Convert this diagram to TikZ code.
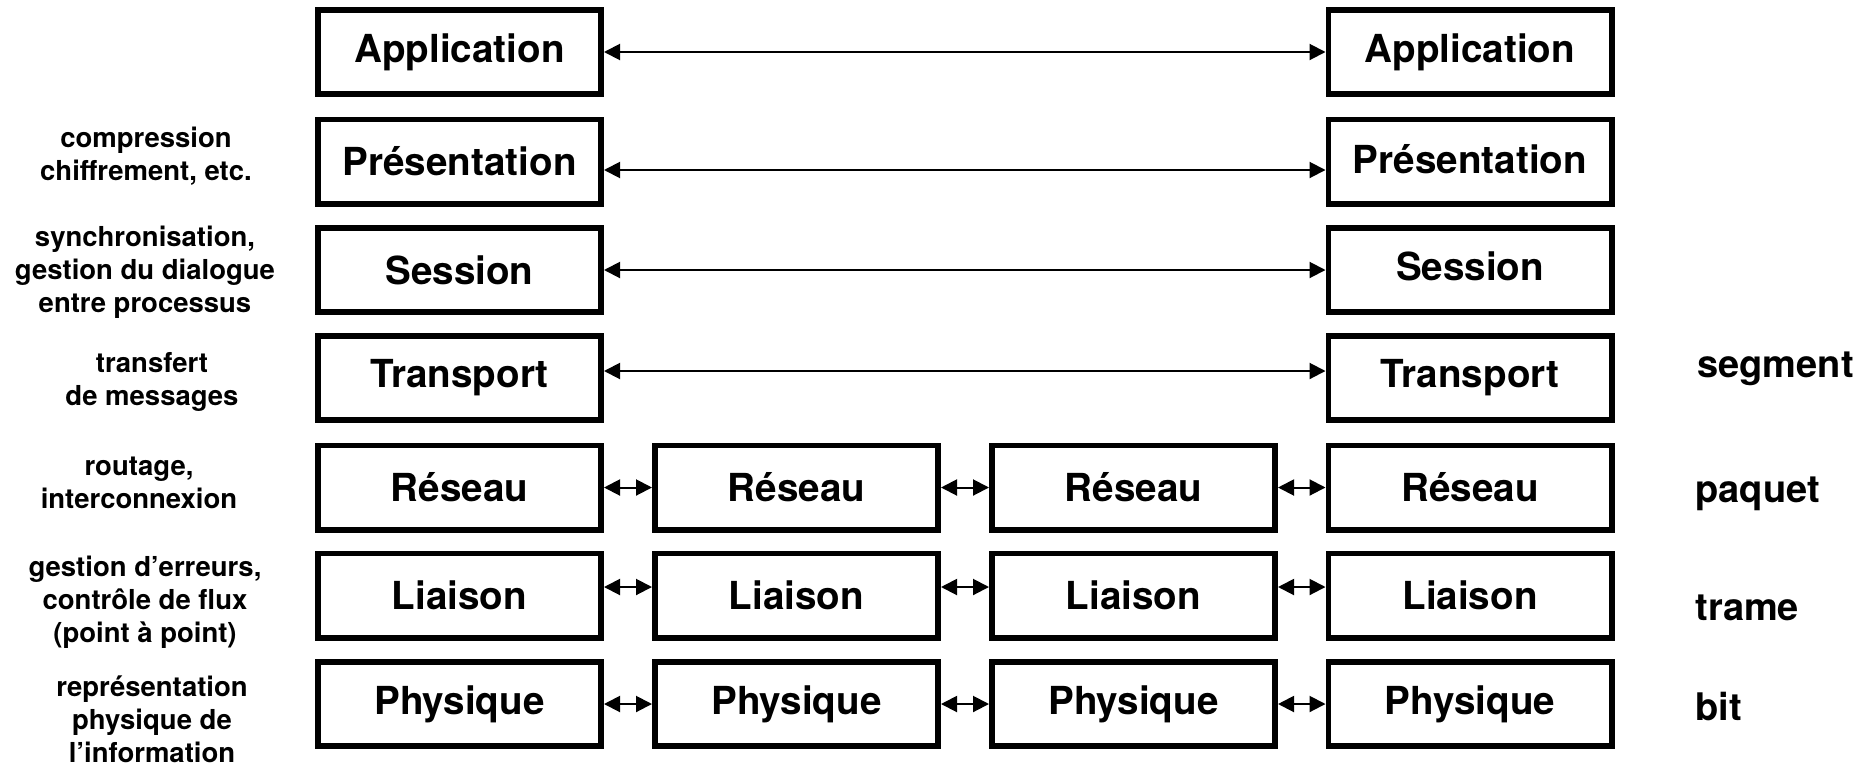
\documentclass[tikz,border=0pt]{standalone}
\usepackage{fontspec}
\setmainfont{TeX Gyre Heros}
\usetikzlibrary{arrows.meta}
\begin{document}
\begin{tikzpicture}[x=0.5pt,y=-0.5pt,
  layer/.style={draw,line width=2.85pt,minimum width=141.65pt,minimum height=42.15pt,inner sep=0pt,font=\fontsize{19.3}{22}\selectfont\bfseries},
  desc/.style={align=center,inner sep=0pt,font=\fontsize{13.75}{16.5}\selectfont\bfseries},
  pdu/.style={anchor=base west,inner sep=0pt,font=\fontsize{19}{22}\selectfont\bfseries},
  link/.style={{Triangle[length=8pt,width=8pt]}-{Triangle[length=8pt,width=8pt]},line width=1pt}]
\useasboundingbox (0,0) rectangle (1872,766);

% columns 1 and 4 (upper layers)
\node[layer] (A1) at (459.5,52) {Application};
\node[layer] (A4) at (1470,52) {Application};
\node[layer] (P1) at (459.5,161.5) {Présentation};
\node[layer] (P4) at (1470,161.5) {\raisebox{3pt}{Présentation}};
\node[layer] (S1) at (459.5,270) {Session};
\node[layer] (S4) at (1470,270) {\raisebox{3.5pt}{Session}};
\node[layer] (T1) at (459.5,378) {Transport};
\node[layer] (T4) at (1470,378) {\raisebox{4.5pt}{Transport}};

% lower layers, four columns
\foreach \c/\x in {1/459.5,2/796.5,3/1133.5,4/1470}{
  \node[layer] (R\c) at (\x,487.5) {Réseau};
  \node[layer] (L\c) at (\x,595.5) {Liaison};
  \node[layer] (F\c) at (\x,704) {Physique};
}

% long connectors
\draw[link] (A1.east) -- (A4.west);
\draw[link] ([yshift=-4.25pt]P1.east) -- ([yshift=-4.25pt]P4.west);
\draw[link] (S1.east) -- (S4.west);
\draw[link] ([yshift=3.5pt]T1.east) -- ([yshift=3.5pt]T4.west);

% short connectors
\foreach \a/\b in {1/2,2/3,3/4}{
  \draw[link] (R\a.east) -- (R\b.west);
  \draw[link] ([yshift=4.25pt]L\a.east) -- ([yshift=4.25pt]L\b.west);
  \draw[link] (F\a.east) -- (F\b.west);
}

% left descriptions
\node[desc] (dP) at (146,156) {compression\\chiffrement, etc.};
\node[desc] (dS) at (145,272) {synchronisation,\\gestion du dialogue\\entre processus};
\node[desc] (dT) at (152,382) {transfert\\de messages};
\node[desc] (dR) at (139,483) {routage,\\interconnexion};
\node[desc] (dL) at (145,602) {gestion d’erreurs,\\contrôle de flux\\(point à point)};
\node[desc] (dF) at (152,719) {représentation\\physique de\\l’information};

% right PDU names
\node[pdu] (uT) at (1697,377) {segment};
\node[pdu] (uR) at (1695,502) {paquet};
\node[pdu] (uL) at (1695,620) {trame};
\node[pdu] (uF) at (1695,720) {bit};
\end{tikzpicture}
\end{document}
